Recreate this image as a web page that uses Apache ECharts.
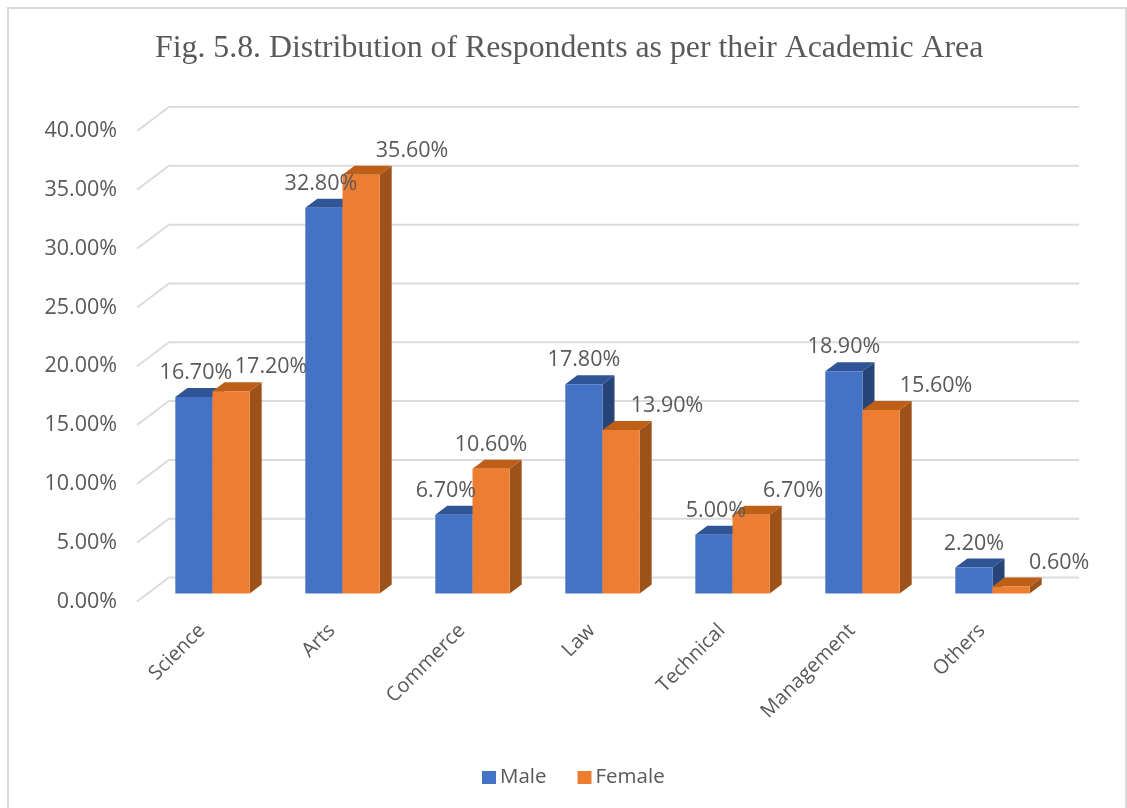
<!DOCTYPE html>
<html>
<head>
<meta charset="utf-8">
<style>html,body{margin:0;padding:0;background:#fff}#chart{width:1127px;height:808px}</style>
<script src="https://cdn.jsdelivr.net/npm/echarts@6/dist/echarts.min.js"></script>
</head>
<body>
<div id="chart"></div>
<script>
const categories = ['Science', 'Arts', 'Commerce', 'Law', 'Technical', 'Management', 'Others'];
const male = [16.7, 32.8, 6.7, 17.8, 5.0, 18.9, 2.2];
const female = [17.2, 35.6, 10.6, 13.9, 6.7, 15.6, 0.6];
const valueTicks = [0, 5, 10, 15, 20, 25, 30, 35, 40];

// Sideways nudges that keep each value label clear of the neighbouring bar
const maleLabelShift = [2, -3, -8, 0, 2, 0, 0];
const femaleLabelShift = [40, 51, 0, 46, 42, 55, 48];

// Oblique projection of the pseudo-3D box, in pixels
const wallDepth = [32, -24];
const barInset = [10.5, -8];
const barDepth = [12, -9];
const barShare = 0.286;

const fmt = v => v.toFixed(2) + '%';

function wallItem(params, api) {
  const g = params.coordSys;
  const y = api.coord([0, api.value(0)])[1];
  const x0 = g.x, x1 = g.x + g.width;
  return {
    type: 'polyline',
    shape: {points: [[x0, y], [x0 + wallDepth[0], y + wallDepth[1]], [x1 + wallDepth[0], y + wallDepth[1]]]},
    style: {stroke: '#dcdcdc', lineWidth: 2, fill: null}
  };
}

function barRenderer(side, front, top, flank, shifts) {
  return function (params, api) {
    const i = api.value(0), v = api.value(1);
    const p = api.coord([i, v]), base = api.coord([i, 0]);
    const w = api.size([1, 0])[0] * barShare;
    const xl = p[0] + barInset[0] + (side < 0 ? -w : 0);
    const xr = xl + w;
    const yt = p[1] + barInset[1], yb = base[1] + barInset[1];
    const dx = barDepth[0], dy = barDepth[1];
    return {
      type: 'group',
      children: [
        {type: 'polygon', shape: {points: [[xr, yt], [xr + dx, yt + dy], [xr + dx, yb + dy], [xr, yb]]}, style: {fill: flank}},
        {type: 'polygon', shape: {points: [[xl, yt], [xl + dx, yt + dy], [xr + dx, yt + dy], [xr, yt]]}, style: {fill: top}},
        {type: 'rect', shape: {x: xl, y: yt, width: w, height: yb - yt}, style: {fill: front}},
        {
          type: 'text', z2: 100,
          style: {
            text: fmt(v), x: (xl + xr) / 2 + shifts[i], y: yt - 24,
            align: 'center', verticalAlign: 'middle',
            fill: '#595959', font: '21.5px "Open Sans"'
          }
        }
      ]
    };
  };
}

const chart = echarts.init(document.getElementById('chart'), null, {renderer: 'canvas'});
chart.setOption({
  animation: false,
  backgroundColor: '#fff',
  title: {
    text: 'Fig. 5.8. Distribution of Respondents as per their Academic Area',
    left: 150, top: 28,
    textStyle: {fontFamily: '"Liberation Serif"', fontSize: 31.8, fontWeight: 'normal', color: '#595959'}
  },
  graphic: [{
    type: 'rect', silent: true, z: -10,
    shape: {x: 8, y: 8, width: 1118, height: 830},
    style: {fill: '#fff', stroke: '#d9d9d9', lineWidth: 2}
  }],
  legend: {
    data: ['Male', 'Female'],
    left: 477, top: 762,
    icon: 'rect', itemWidth: 14, itemHeight: 13, itemGap: 31,
    textStyle: {fontFamily: '"Open Sans"', fontSize: 20.5, color: '#595959', padding: [0, 0, 0, -1]}
  },
  grid: {left: 137, right: 80, top: 131, bottom: 206.5},
  xAxis: {
    type: 'category', data: categories,
    axisLine: {show: false}, axisTick: {show: false}, splitLine: {show: false},
    axisLabel: {rotate: 45, interval: 0, margin: 26, fontFamily: '"Open Sans"', fontSize: 20, color: '#595959'}
  },
  yAxis: {
    type: 'value', min: 0, max: 40, interval: 5,
    axisLine: {show: false}, axisTick: {show: false}, splitLine: {show: false},
    axisLabel: {margin: 20, padding: [4, 0, 0, 0], formatter: v => fmt(v), fontFamily: '"Open Sans"', fontSize: 21.5, color: '#595959'}
  },
  series: [
    {type: 'custom', name: 'walls', silent: true, z: 1, clip: false, renderItem: wallItem,
      data: valueTicks.map(t => [t])},
    {type: 'custom', name: 'Male', z: 2, clip: false, itemStyle: {color: '#4472c4'},
      renderItem: barRenderer(-1, '#4472c4', '#2f5597', '#264478', maleLabelShift),
      encode: {x: 0, y: 1}, data: male.map((v, i) => [i, v])},
    {type: 'custom', name: 'Female', z: 2, clip: false, itemStyle: {color: '#ed7d31'},
      renderItem: barRenderer(1, '#ed7d31', '#bd5f17', '#9c5219', femaleLabelShift),
      encode: {x: 0, y: 1}, data: female.map((v, i) => [i, v])}
  ]
});
</script>
</body>
</html>
